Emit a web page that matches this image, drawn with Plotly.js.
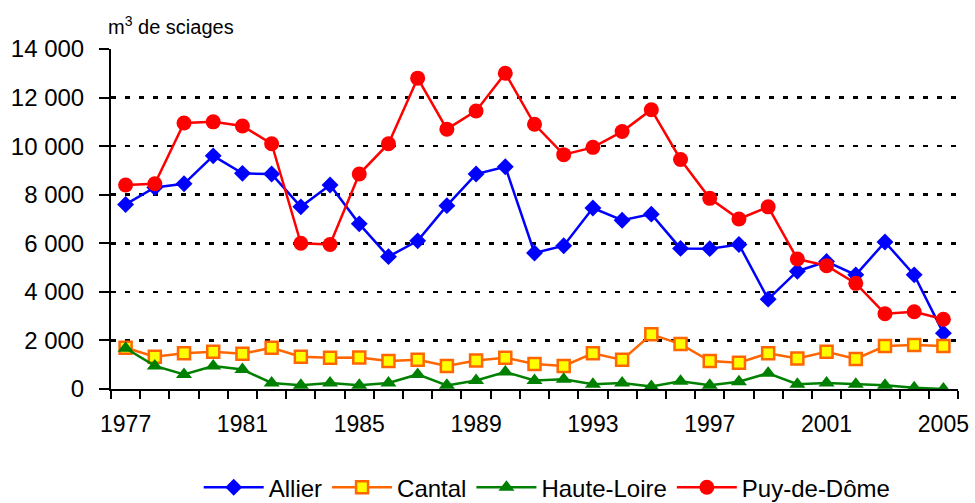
<!DOCTYPE html>
<html>
<head>
<meta charset="utf-8">
<script src="https://cdn.plot.ly/plotly-3.0.1.min.js"></script>
<style>
  html, body { margin: 0; padding: 0; background: #ffffff; }
  #chart { width: 975px; height: 503px; }
</style>
</head>
<body>
<div id="chart"></div>
<script>
const years = [1977, 1978, 1979, 1980, 1981, 1982, 1983, 1984, 1985, 1986,
               1987, 1988, 1989, 1990, 1991, 1992, 1993, 1994, 1995, 1996,
               1997, 1998, 1999, 2000, 2001, 2002, 2003, 2004, 2005];
const yearLabels = [1977, 1981, 1985, 1989, 1993, 1997, 2001, 2005];

const allier = [7600, 8300, 8450, 9600, 8880, 8850, 7500, 8400, 6800, 5450,
                6100, 7550, 8850, 9150, 5600, 5900, 7450, 6950, 7200, 5790,
                5780, 5950, 3700, 4850, 5250, 4700, 6050, 4700, 2300];
const cantal = [1700, 1330, 1470, 1530, 1450, 1700, 1330, 1290, 1300, 1150,
                1200, 950, 1170, 1290, 1030, 950, 1470, 1200, 2250, 1850,
                1150, 1080, 1470, 1260, 1530, 1240, 1770, 1810, 1770];
const hauteLoire = [1680, 950, 600, 950, 800, 250, 150, 250, 150, 250,
                    600, 150, 350, 700, 350, 400, 200, 250, 100, 320,
                    150, 300, 650, 200, 250, 200, 150, 50, 0];
const puyDeDome = [8400, 8450, 10950, 11000, 10830, 10100, 6000, 5950, 8850, 10100,
                   12800, 10700, 11450, 13000, 10900, 9650, 9950, 10600, 11500, 9450,
                   7850, 7000, 7500, 5350, 5080, 4350, 3100, 3180, 2870];

const seriesNames = ['Allier', 'Cantal', 'Haute-Loire', 'Puy-de-Dôme'];

const traces = [
  {
    x: years, y: allier, name: seriesNames[0], type: 'scatter', mode: 'lines+markers',
    line: {color: '#0000FF', width: 2.5},
    marker: {symbol: 'diamond', size: 13, color: '#0000FF'}
  },
  {
    x: years, y: cantal, name: seriesNames[1], type: 'scatter', mode: 'lines+markers',
    line: {color: '#FF6600', width: 2.5},
    marker: {symbol: 'square', size: 12, color: '#FFFF00', line: {color: '#FF6600', width: 2.5}}
  },
  {
    x: years, y: hauteLoire, name: seriesNames[2], type: 'scatter', mode: 'lines+markers',
    line: {color: '#008000', width: 2.5},
    marker: {symbol: 'triangle-up', size: 14, color: '#008000'}
  },
  {
    x: years, y: puyDeDome, name: seriesNames[3], type: 'scatter', mode: 'lines+markers',
    line: {color: '#FF0000', width: 2.5},
    marker: {symbol: 'circle', size: 15, color: '#FF0000'}
  }
];

const layout = {
  width: 975, height: 503,
  margin: {l: 111, r: 17, t: 49, b: 114, autoexpand: false},
  paper_bgcolor: '#ffffff', plot_bgcolor: '#ffffff',
  separators: ', ',
  font: {family: 'Liberation Sans, Arial, sans-serif', color: '#000000', size: 24},
  showlegend: true,
  legend: {
    orientation: 'h', x: 0.515, xanchor: 'center', y: -0.29, yanchor: 'middle',
    font: {size: 24}, itemwidth: 60, traceorder: 'normal'
  },
  xaxis: {
    type: 'linear', range: [1976.5, 2005.5],
    tickvals: yearLabels, ticks: '', showgrid: false, zeroline: false,
    showline: true, linecolor: '#000000', linewidth: 2,
    tickfont: {size: 23}, ticklabelstandoff: 13,
    minor: {ticks: 'outside', tick0: 1976.5, dtick: 1, ticklen: 8, tickwidth: 2, tickcolor: '#000000'}
  },
  yaxis: {
    range: [0, 14000], dtick: 2000, tick0: 0, tickformat: ',d',
    ticks: 'outside', ticklen: 10, tickwidth: 2, tickcolor: '#000000',
    showline: true, linecolor: '#000000', linewidth: 2, zeroline: false,
    showgrid: true, gridcolor: '#000000', gridwidth: 2.5, griddash: '5px,9px',
    tickfont: {size: 24}, ticklabelstandoff: 10
  },
  annotations: [{
    text: 'm<sup>3</sup> de sciages', xref: 'paper', yref: 'paper',
    x: -0.006, y: 1, xanchor: 'left', yanchor: 'bottom', yshift: 9,
    showarrow: false, font: {size: 20}
  }]
};

Plotly.newPlot('chart', traces, layout, {displayModeBar: false, staticPlot: true});
</script>
</body>
</html>
